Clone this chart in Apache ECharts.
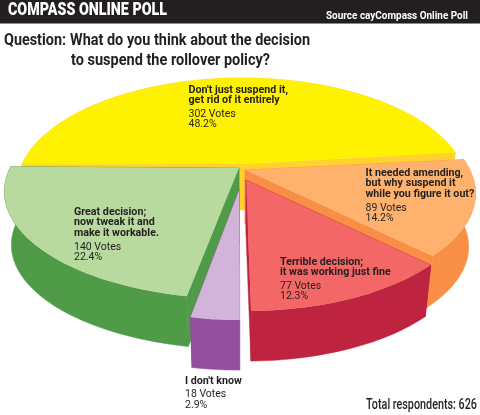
<!DOCTYPE html>
<html><head><meta charset="utf-8">
<style>html,body{margin:0;padding:0;background:#fff}#c{width:480px;height:415px}</style>
<script src="https://cdn.jsdelivr.net/npm/echarts@6/dist/echarts.min.js"></script>
</head><body><div id="c"></div>
<script>
// Data
const categories = [
  "It needed amending,\nbut why suspend it\nwhile you figure it out?",
  "Terrible decision;\nit was working just fine",
  "I don't know",
  "Great decision;\nnow tweak it and\nmake it workable.",
  "Don't just suspend it,\nget rid of it entirely"
];
const votes = [89, 77, 18, 140, 302];
const percents = ["14.2%", "12.3%", "2.9%", "22.4%", "48.2%"];
const titleText = "COMPASS ONLINE POLL";
const sourceText = "Source cayCompass Online Poll";
const questionLead = "Question:";
const questionLines = ["What do you think about the decision", "to suspend the rollover policy?"];
const totalText = "Total respondents: 626";

// Styling and layout, per category
const faceColors = ["#FFB26E", "#F46767", "#D2B4D9", "#B8DA9E", "#FFF200"];
const wallColors = ["#F98E46", "#BE2340", "#92509F", "#4F9B48", "#FFD22E"];
const apexes = [[245,170],[246,180],[239.5,189],[239,168],[242,164]];
const radii = [225, 220, 215, 229, 220];
const heightScale = [1, 1, 1, 1, 1.024];
const depths = [54, 54, 54, 54, 46];
const nudges = [-2, -2.5, -1.5, -1.5, -2.5];
const labelPos = [[365.5,173],[280,262],[185,381],[74,212],[188.5,90]];
const drawOrder = [4, 0, 1, 3, 2];

const START = -4, H = 102.4, P = 0.2186, BOTTOM_SCALE = 0.97, STEP = 1.5;
const total = votes.reduce((a, b) => a + b, 0);
const starts = [];
votes.reduce((acc, v, i) => { starts[i] = acc; return acc + v / total * 360; }, START);

function project(i, deg, bottom) {
  const t = deg * Math.PI / 180, den = 1 - P * Math.sin(t), s = bottom ? BOTTOM_SCALE : 1;
  return [
    apexes[i][0] + s * radii[i] * Math.cos(t) / den,
    apexes[i][1] + (bottom ? depths[i] : 0) + s * H * heightScale[i] * Math.sin(t) / den
  ];
}
function renderSlice(params, api) {
  const i = api.value(0);
  const a0 = starts[i] + nudges[i];
  const a1 = a0 + api.value(1) / total * 360;
  const topArc = [], botArc = [];
  for (let a = a0; ; a += STEP) {
    const d = Math.min(a, a1);
    topArc.push(project(i, d, false));
    botArc.push(project(i, d, true));
    if (d >= a1) break;
  }
  const apexT = apexes[i], apexB = [apexes[i][0], apexes[i][1] + depths[i]];
  const wall = { fill: wallColors[i], stroke: wallColors[i], lineWidth: 0.5 };
  const poly = (points, style) => ({ type: 'polygon', shape: { points }, style, silent: true });
  return { type: 'group', children: [
    poly([apexT, topArc[0], botArc[0], apexB], wall),
    poly([apexT, topArc[topArc.length-1], botArc[botArc.length-1], apexB], wall),
    poly(topArc.concat(botArc.slice().reverse()), wall),
    poly([apexT].concat(topArc), { fill: faceColors[i] })
  ]};
}

const ink = '#231F20';
const ctx = document.createElement('canvas').getContext('2d');
const text = (x, y, t, font, fill, width) => {
  ctx.font = font;
  const scaleX = width ? width / ctx.measureText(t).width : 1;
  return { type: 'text', x, y, scaleX, z: 10, silent: true,
    style: { text: t, font, fill: fill || ink, verticalAlign: 'middle', align: 'left' } };
};
const H_FONT = 'bold 17px Roboto,sans-serif';
const LB = 'bold 10.7px Roboto,sans-serif', LR = '10.5px Roboto,sans-serif';
const graphics = [
  { type: 'rect', z: 5, shape: { x: 0, y: 0, width: 480, height: 23 }, style: { fill: '#231F20' }, silent: true },
  { type: 'rect', z: 5, shape: { x: 0, y: 23, width: 480, height: 1 }, style: { fill: '#8a8a8a' }, silent: true },
  text(8, 11, titleText, '900 17.5px Roboto,sans-serif', '#fff', 159),
  text(326, 16.7, sourceText, 'bold 10.5px Roboto,sans-serif', '#fff', 142),
  text(4, 40.5, questionLead, H_FONT, ink, 62),
  text(70, 40.5, questionLines[0], H_FONT, ink, 240),
  text(71, 60.5, questionLines[1], H_FONT, ink, 199),
  text(366, 405.5, totalText, '500 15.5px Roboto,sans-serif', ink, 111)
];
categories.forEach((c, i) => {
  const [x, y0] = labelPos[i];
  const lines = c.split("\n");
  lines.forEach((l, k) => graphics.push(text(x, y0 + k * 10.8, l, LB)));
  const y1 = y0 + (lines.length - 1) * 10.8;
  graphics.push(text(x, y1 + 13.5, votes[i] + ' Votes', LR));
  graphics.push(text(x, y1 + 24, percents[i], LR));
});

const chart = echarts.init(document.getElementById('c'), null, { renderer: 'canvas' });
chart.setOption({
  animation: false,
  backgroundColor: '#fff',
  series: [{
    type: 'custom', coordinateSystem: 'none', silent: true, z: 1,
    data: drawOrder.map(i => [i, votes[i]]),
    renderItem: renderSlice
  }],
  graphic: graphics
});
</script></body></html>
